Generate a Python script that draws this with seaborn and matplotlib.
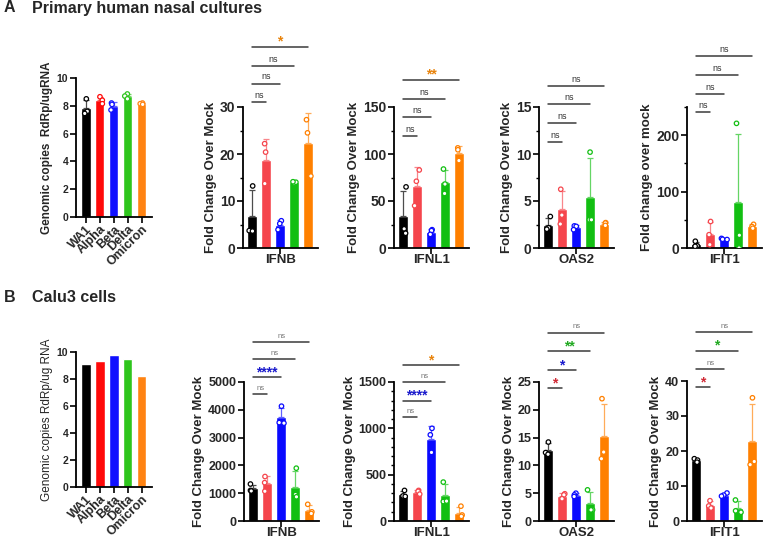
import matplotlib
matplotlib.use("Agg")
import matplotlib.pyplot as plt
import matplotlib.colors as mcolors
import numpy as np
import pandas as pd
import seaborn as sns

sns.set_style("ticks")
plt.rcParams["font.family"] = ["Liberation Sans", "DejaVu Sans"]
plt.rcParams["font.weight"] = "bold"
plt.rcParams["axes.labelweight"] = "bold"
np.random.seed(3)

# ---------------------------------------------------------------------------
# Data (three replicates per variant)
# ---------------------------------------------------------------------------
VARIANTS = ["WA1", "Alpha", "Beta", "Delta", "Omicron"]

# A: primary human nasal cultures
A_GENOMIC = [[8.5, 7.6, 7.45], [8.65, 8.4, 8.15], [8.2, 8.1, 7.7],
             [8.85, 8.7, 8.5], [8.2, 8.15, 8.1]]
A_IFNB = [[13.2, 3.7, 3.6], [22.2, 20.4, 13.7], [5.8, 5.2, 3.9],
          [13.8, 14.0, 14.1], [27.3, 24.5, 15.3]]
A_IFNL1 = [[65, 20.4, 15.7], [83, 71, 45], [19.5, 18.5, 14.5],
           [84, 58, 68], [106.5, 104.5, 93]]
A_OAS2 = [[3.35, 2.15, 2.0], [6.25, 3.5, 2.55], [2.35, 2.3, 1.95],
          [10.2, 3.0, 3.0], [2.7, 2.65, 2.4]]
A_IFIT1 = [[12, 4, 3], [47, 23.6, 5.9], [17, 15.5, 15],
           [221, 22.6, 0], [42, 38, 35]]

# B: Calu3 cells
B_GENOMIC = [9.1, 9.35, 9.8, 9.5, 8.2]
B_IFNB = [[1330, 1100, 1080], [1600, 1380, 1070], [4130, 3540, 3520],
          [1900, 950, 870], [600, 330, 270]]
B_IFNL1 = [[330, 270, 265], [330, 320, 290], [1000, 930, 740],
           [420, 210, 215], [160, 65, 50]]
B_OAS2 = [[14.2, 12.3, 12.0], [4.9, 4.7, 4.0], [5.0, 4.7, 4.4],
          [5.6, 2.0, 2.0], [22.0, 12.4, 11.2]]
B_IFIT1 = [[17.8, 17.4, 16.8], [5.8, 4.3, 3.7], [8.0, 7.4, 7.1],
           [6.0, 2.9, 2.5], [35.2, 17.0, 16.1]]

# significance brackets vs WA1: (label, height, colour)
A_IFNB_SIG = [("ns", 31, None), ("ns", 35, None), ("ns", 38.7, None), ("*", 42.8, "orange")]
A_IFNL1_SIG = [("ns", 119, None), ("ns", 139, None), ("ns", 158, None), ("**", 179, "orange")]
A_OAS2_SIG = [("ns", 11.3, None), ("ns", 13.3, None), ("ns", 15.3, None), ("ns", 17.2, None)]
A_IFIT1_SIG = [("ns", 241, None), ("ns", 273, None), ("ns", 306, None), ("ns", 340, None)]
B_IFNB_SIG = [("ns", 4570, None), ("****", 5180, "blue"), ("ns", 5820, None), ("ns", 6430, None)]
B_IFNL1_SIG = [("ns", 1117, None), ("****", 1298, "blue"), ("ns", 1500, None), ("*", 1681, "orange")]
B_OAS2_SIG = [("*", 23.9, "red"), ("*", 27.1, "blue"), ("**", 30.5, "green"), ("ns", 33.9, None)]
B_IFIT1_SIG = [("*", 38.2, "red"), ("ns", 43.3, None), ("*", 48.7, "green"), ("ns", 54.1, None)]

GENOMIC_COLORS = ["#000000", "#ff0a0a", "#1010ff", "#2ec51c", "#ff8312"]
GENE_COLORS = ["#000000", "#f5454c", "#0a0aff", "#12bf12", "#ff8000"]
STAR_COLORS = {"orange": "#e8830c", "blue": "#1a1acc", "red": "#d02a36", "green": "#22aa22"}


def lighten(c, amt=0.4):
    rgb = np.array(mcolors.to_rgb(c))
    return tuple(rgb + (1 - rgb) * amt)


def long_df(pts):
    return pd.DataFrame({
        "variant": np.repeat(VARIANTS, [len(p) for p in pts]),
        "value": np.concatenate(pts),
    })


def style_axis(ax):
    sns.despine(ax=ax)
    for side in ("left", "bottom"):
        ax.spines[side].set_linewidth(1.3)
        ax.spines[side].set_color("black")
    ax.tick_params(axis="both", which="major", length=4, width=1.2, color="black", pad=1.5)
    ax.tick_params(axis="x", which="major", pad=0.5)
    ax.tick_params(axis="both", which="minor", length=2.5, width=1.0, color="black")


def bars_with_points(ax, pts, colors, width):
    df = long_df(pts)
    pal = dict(zip(VARIANTS, colors))
    sns.barplot(data=df, x="variant", y="value", hue="variant", palette=pal,
                order=VARIANTS, errorbar=None, width=width, saturation=1,
                legend=False, ax=ax)
    stats = df.groupby("variant", sort=False)["value"].agg(["mean", "std"])
    for i, v in enumerate(VARIANTS):
        ax.errorbar(i, stats.loc[v, "mean"], yerr=[[0], [stats.loc[v, "std"]]],
                    color=lighten(colors[i], 0.35 if i else 0.3), lw=0.9,
                    capsize=2.5, capthick=0.9, zorder=3)
    n_before = len(ax.collections)
    sns.stripplot(data=df, x="variant", y="value", hue="variant", palette=pal,
                  order=VARIANTS, jitter=0.22, size=3.2, linewidth=0.9,
                  legend=False, ax=ax, zorder=4)
    for coll in ax.collections[n_before:]:
        fc = coll.get_facecolor()
        coll.set_edgecolor(fc)
        coll.set_facecolor("white")


def draw_sig(ax, sig, ns_size, ns_color):
    for k, (label, y, col) in enumerate(sig):
        i = k + 1
        ax.plot([0, i], [y, y], color="#3a3a3a", lw=1.1, clip_on=False, zorder=5)
        if label == "ns":
            ax.annotate(label, (i / 2, y), xytext=(0, 1.5), textcoords="offset points",
                        ha="center", va="bottom", fontsize=ns_size, color=ns_color,
                        fontweight="normal", annotation_clip=False)
        else:
            ax.annotate(label, (i / 2, y), xytext=(0, -1.5), textcoords="offset points",
                        ha="center", va="bottom", fontsize=10, color=STAR_COLORS[col],
                        fontweight="bold", annotation_clip=False)


def gene_panel(fig, rect, pts, gene, ylabel, ymax, major, minor, sig, row):
    ax = fig.add_axes(rect)
    bars_with_points(ax, pts, GENE_COLORS, 0.68)
    ax.set_xlim(-0.65, 4.7)
    ax.set_ylim(0, ymax)
    ax.set_yticks(major)
    if minor is not None:
        ax.set_yticks(minor, minor=True)
    ax.set_xticks([2])
    ax.set_xticklabels([gene], fontsize=9.5, fontweight="bold")
    ax.set_xlabel("")
    ax.set_ylabel(ylabel, fontsize=9.5, fontweight="bold", labelpad=2)
    tick_fs = 10 if row == "A" else 9
    for lab in ax.get_yticklabels():
        lab.set_fontsize(tick_fs)
        lab.set_fontweight("bold")
    style_axis(ax)
    if row == "A":
        draw_sig(ax, sig, 6.5, "#333333")
    else:
        draw_sig(ax, sig, 5.5, "#777777")
    return ax


def genomic_panel(fig, rect, ylabel, values=None, pts=None, label_weight="bold"):
    ax = fig.add_axes(rect)
    if pts is not None:
        bars_with_points(ax, pts, GENOMIC_COLORS, 0.66)
    else:
        df = pd.DataFrame({"variant": VARIANTS, "value": values})
        sns.barplot(data=df, x="variant", y="value", hue="variant",
                    palette=dict(zip(VARIANTS, GENOMIC_COLORS)), order=VARIANTS,
                    errorbar=None, width=0.68, saturation=1, legend=False, ax=ax)
    ax.set_xlim(-0.72, 4.75)
    ax.set_ylim(0, 10)
    ax.set_yticks(np.arange(0, 11, 2))
    ax.set_xticks(range(5))
    ax.set_xticklabels(VARIANTS, rotation=45, ha="right", rotation_mode="anchor",
                       fontsize=9, fontweight="bold")
    for lab in ax.get_yticklabels():
        lab.set_fontsize(7.5)
        lab.set_fontweight("bold")
    ax.set_xlabel("")
    ax.set_ylabel(ylabel, fontsize=8.5, fontweight=label_weight, labelpad=3)
    style_axis(ax)
    return ax


W, H = 763, 539
fig = plt.figure(figsize=(W / 100, H / 100), dpi=100)


def rect(left, bottom, width, top):
    return [left / W, 1 - bottom / H, width / W, (bottom - top) / H]


# titles
fig.text(4 / W, 1 - 8 / H, "A", fontsize=11.5, fontweight="bold", va="center")
fig.text(32 / W, 1 - 8 / H, "Primary human nasal cultures", fontsize=11.5,
         fontweight="bold", va="center")
fig.text(4 / W, 1 - 297 / H, "B", fontsize=11.5, fontweight="bold", va="center")
fig.text(32 / W, 1 - 297 / H, "Calu3 cells", fontsize=11.5, fontweight="bold", va="center")

# row A
genomic_panel(fig, rect(76, 217, 76, 78), "Genomic copies  RdRp/ugRNA", pts=A_GENOMIC)
gene_panel(fig, rect(243, 248, 75, 107), A_IFNB, "IFNB", "Fold Change Over Mock",
           30, [0, 10, 20, 30], [5, 15, 25], A_IFNB_SIG, "A")
gene_panel(fig, rect(394, 248, 75, 107), A_IFNL1, "IFNL1", "Fold Change Over Mock",
           150, [0, 50, 100, 150], [25, 75, 125], A_IFNL1_SIG, "A")
gene_panel(fig, rect(539, 248, 75, 107), A_OAS2, "OAS2", "Fold Change Over Mock",
           15, [0, 5, 10, 15], [2.5, 7.5, 12.5], A_OAS2_SIG, "A")
gene_panel(fig, rect(687, 248, 75, 107), A_IFIT1, "IFIT1", "Fold change over mock",
           250, [0, 100, 200], [50, 150, 250], A_IFIT1_SIG, "A")

# row B
genomic_panel(fig, rect(76, 487, 76, 352), "Genomic copies RdRp/ug RNA",
              values=B_GENOMIC, label_weight="normal")
gene_panel(fig, rect(244, 521, 75, 382), B_IFNB, "IFNB", "Fold Change Over Mock",
           5000, [0, 1000, 2000, 3000, 4000, 5000], None, B_IFNB_SIG, "B")
gene_panel(fig, rect(394, 521, 75, 382), B_IFNL1, "IFNL1", "Fold Change Over Mock",
           1500, [0, 500, 1000, 1500], np.arange(100, 1500, 100), B_IFNL1_SIG, "B")
gene_panel(fig, rect(539, 521, 75, 382), B_OAS2, "OAS2", "Fold Change Over Mock",
           25, [0, 5, 10, 15, 20, 25], None, B_OAS2_SIG, "B")
gene_panel(fig, rect(687, 521, 75, 381), B_IFIT1, "IFIT1", "Fold Change Over Mock",
           40, [0, 10, 20, 30, 40], None, B_IFIT1_SIG, "B")

fig.savefig("out.png", dpi=100)
